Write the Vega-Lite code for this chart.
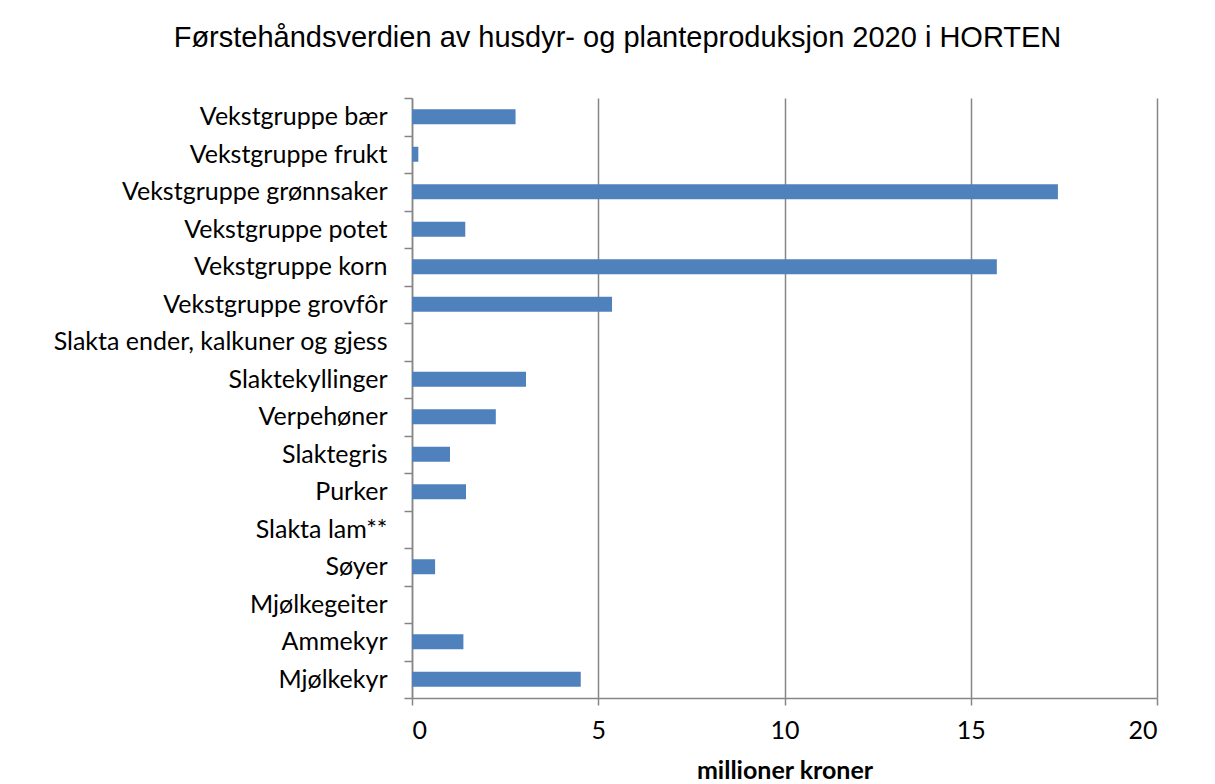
{
  "$schema": "https://vega.github.io/schema/vega-lite/v6.json",
  "autosize": {"type": "none"},
  "padding": {"left": 412, "top": 98, "right": 58, "bottom": 86},
  "width": 745,
  "height": 600,
  "background": "white",
  "title": {
    "text": "Førstehåndsverdien av husdyr- og planteproduksjon 2020 i HORTEN",
    "font": "Liberation Sans",
    "fontSize": 29,
    "fontWeight": "normal",
    "color": "#000000",
    "anchor": "middle",
    "frame": "group",
    "dx": -167,
    "offset": 33
  },
  "data": {
    "values": [
      {"kategori": "Vekstgruppe bær", "verdi": 2.78},
      {"kategori": "Vekstgruppe frukt", "verdi": 0.17},
      {"kategori": "Vekstgruppe grønnsaker", "verdi": 17.34},
      {"kategori": "Vekstgruppe potet", "verdi": 1.43},
      {"kategori": "Vekstgruppe korn", "verdi": 15.7},
      {"kategori": "Vekstgruppe grovfôr", "verdi": 5.37},
      {"kategori": "Slakta ender, kalkuner og gjess", "verdi": 0},
      {"kategori": "Slaktekyllinger", "verdi": 3.06},
      {"kategori": "Verpehøner", "verdi": 2.25},
      {"kategori": "Slaktegris", "verdi": 1.02},
      {"kategori": "Purker", "verdi": 1.45},
      {"kategori": "Slakta lam**", "verdi": 0},
      {"kategori": "Søyer", "verdi": 0.62},
      {"kategori": "Mjølkegeiter", "verdi": 0},
      {"kategori": "Ammekyr", "verdi": 1.38},
      {"kategori": "Mjølkekyr", "verdi": 4.53}
    ]
  },
  "mark": {"type": "bar", "color": "#4F81BD", "height": {"band": 0.4}},
  "encoding": {
    "y": {
      "field": "kategori",
      "type": "nominal",
      "sort": null,
      "scale": {
        "domain": ["Vekstgruppe bær", "Vekstgruppe frukt", "Vekstgruppe grønnsaker", "Vekstgruppe potet", "Vekstgruppe korn", "Vekstgruppe grovfôr", "Slakta ender, kalkuner og gjess", "Slaktekyllinger", "Verpehøner", "Slaktegris", "Purker", "Slakta lam**", "Søyer", "Mjølkegeiter", "Ammekyr", "Mjølkekyr"],
        "paddingInner": 0,
        "paddingOuter": 0
      },
      "axis": {
        "title": null,
        "grid": false,
        "tickBand": "extent",
        "tickSize": 8,
        "tickColor": "#868686",
        "tickWidth": 1.5,
        "domainColor": "#868686",
        "domainWidth": 1.5,
        "labelFont": "Lato",
        "labelFontSize": 25,
        "labelColor": "#000000",
        "labelPadding": 17,
        "labelLimit": 500
      }
    },
    "x": {
      "field": "verdi",
      "type": "quantitative",
      "scale": {"domain": [0, 20], "nice": false},
      "axis": {
        "title": "millioner kroner",
        "titleFont": "Lato",
        "titleFontSize": 25,
        "titleFontWeight": "bold",
        "titleColor": "#000000",
        "titlePadding": 15,
        "values": [0, 5, 10, 15, 20],
        "grid": true,
        "gridColor": "#868686",
        "gridWidth": 1.5,
        "tickSize": 7,
        "tickColor": "#868686",
        "tickWidth": 1.5,
        "domainColor": "#868686",
        "domainWidth": 1.5,
        "labelFont": "Lato",
        "labelFontSize": 25,
        "labelColor": "#000000",
        "labelPadding": 13
      }
    }
  },
  "config": {
    "view": {"stroke": null}
  }
}
